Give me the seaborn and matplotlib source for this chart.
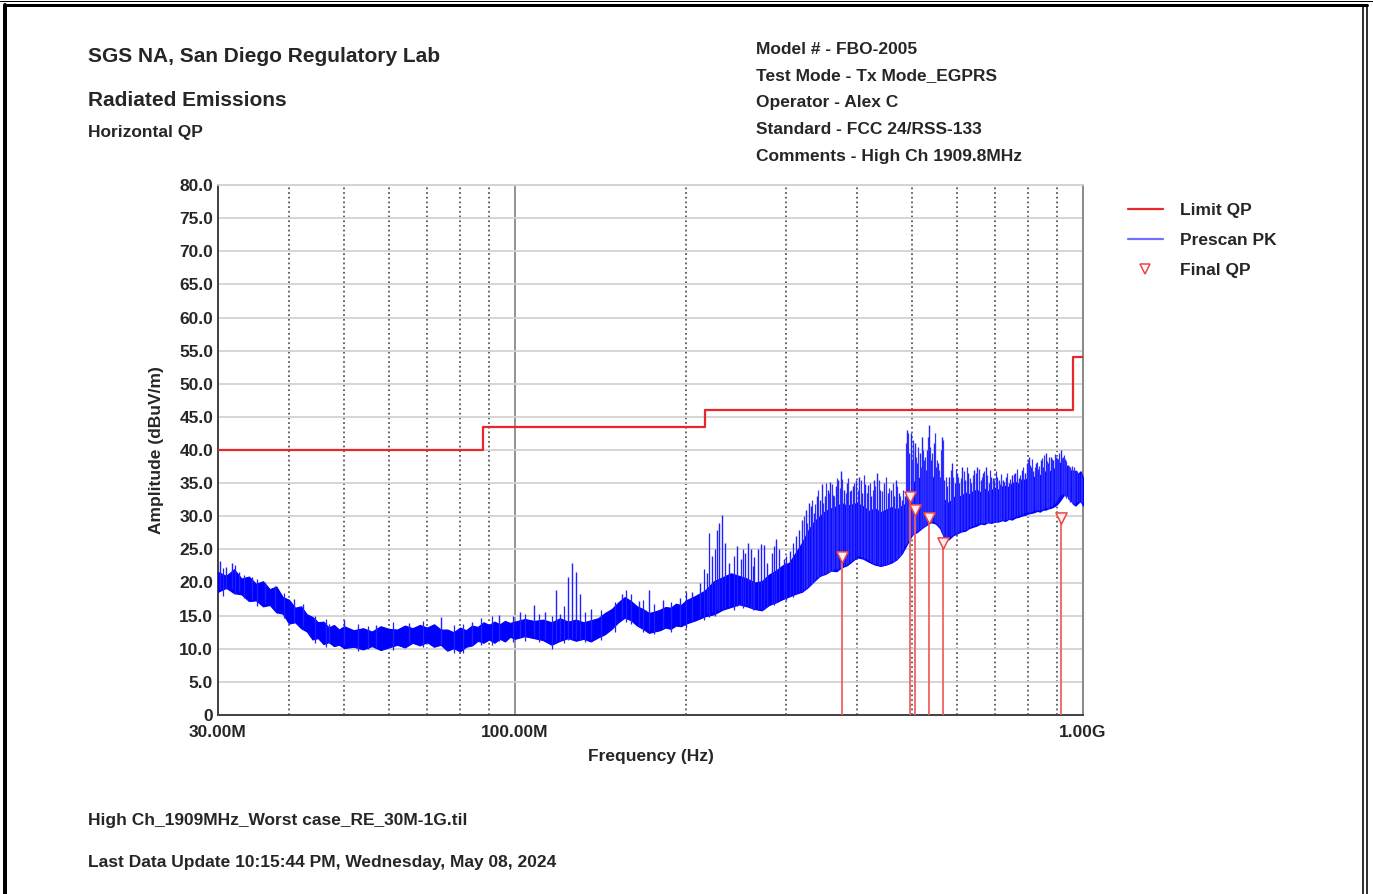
import matplotlib
matplotlib.use("Agg")
import matplotlib.pyplot as plt
import seaborn as sns
from matplotlib.lines import Line2D
from matplotlib.ticker import FixedLocator, MultipleLocator, FuncFormatter, NullFormatter

# --- data (frequency in MHz, level in dBuV/m) ---
limit_freq = [30, 88, 216, 960, 1000]
limit_level = [40.0, 43.5, 46.0, 54.0, 54.0]

# prescan peak trace: noise floor band (lower / upper edge)
band_freq = [30, 31, 32, 33, 34, 35, 36, 37, 38, 39, 40, 41, 42, 43, 44, 45, 46, 47, 48, 49, 50,
             52, 54, 56, 58, 60, 62, 64, 66, 68, 70, 72, 74, 76, 78, 80, 82, 84, 86, 88, 90,
             92, 94, 96, 98, 100,
             104, 108, 112, 116, 120, 124, 128, 132, 136, 140, 144, 148, 152, 156, 160, 164,
             168, 172, 176, 180, 184, 188, 192, 196, 200,
             208, 216, 224, 232, 240, 248, 256, 264, 272, 280, 288, 296, 304, 312, 320, 328,
             336, 344, 352, 360, 368, 376, 384, 392, 400,
             410, 420, 430, 440, 450, 460, 470, 480, 490, 500, 510, 520, 530, 540, 550, 560,
             570, 580, 590, 600, 610, 620, 630, 640, 650, 660, 670, 680, 690, 700, 710, 720,
             730, 740, 750, 760, 770, 780, 790, 800, 810, 820, 830, 840, 850, 860, 870, 880,
             890, 900, 910, 920, 930, 940, 950, 960, 970, 980, 990, 1000]
band_low = [18.6, 19.2, 18.4, 18.2, 17.2, 17.3, 16.4, 16.6, 15.5, 15.3, 13.8, 14.0, 13.1, 12.6,
            11.4, 11.6, 10.7, 11.0, 10.4, 10.6, 10.1,
            10.3, 9.9, 10.4, 9.8, 10.2, 10.6, 10.2, 10.9, 10.5, 11.0, 10.3, 10.6, 9.7, 10.1,
            9.6, 10.3, 10.5, 11.2, 10.9, 11.4, 10.9, 11.5, 11.1, 11.8, 11.5,
            11.9, 11.6, 11.3, 10.6, 11.2, 11.6, 11.2, 11.5, 11.1, 11.7, 12.2, 13.0, 14.0,
            14.7, 14.3, 13.5, 13.0, 12.4, 12.6, 12.8, 13.2, 13.0, 13.5, 13.4, 13.8,
            14.3, 14.9, 15.2, 15.9, 16.3, 16.7, 16.4, 16.0, 15.8, 16.6, 17.0, 17.5, 17.9,
            18.3, 18.6, 19.3, 20.2, 21.0, 21.3, 21.8, 21.7, 22.3, 22.6, 23.2, 23.8,
            23.6, 23.1, 22.7, 22.5, 22.7, 23.0, 23.5, 24.4, 25.8, 27.2, 27.6, 28.2, 28.7,
            29.1, 28.9, 28.2, 26.7, 26.5, 27.1, 27.4, 27.7, 27.8, 28.2, 28.4, 28.6, 28.9,
            28.8, 29.1, 29.0, 29.2, 29.2, 29.4, 29.3, 29.6, 29.5, 29.8, 29.9, 30.1, 30.2,
            30.4, 30.5, 30.6, 30.8, 30.7, 31.0, 31.0, 31.2, 31.3, 31.5, 31.8, 32.3, 32.9,
            33.4, 33.0, 32.5, 31.9, 31.6, 32.0, 32.3, 31.6]
band_high = [21.6, 21.0, 22.0, 20.6, 20.9, 19.8, 20.2, 19.0, 19.4, 17.8, 17.4, 16.2, 16.4, 15.2,
             14.8, 14.0, 14.1, 13.2, 13.6, 12.9, 13.4,
             12.8, 13.1, 12.6, 13.4, 13.0, 12.9, 13.5, 13.1, 13.6, 13.2, 13.7, 12.9, 12.9,
             12.5, 13.2, 12.8, 13.5, 13.3, 14.0, 13.6, 14.1, 13.7, 14.2, 13.9, 14.1,
             14.5, 14.2, 14.4, 14.0, 14.6, 14.1, 14.4, 14.0, 14.3, 14.6, 15.4, 16.0, 17.0,
             17.8, 17.2, 16.4, 16.0, 15.4, 15.6, 15.9, 16.3, 16.2, 16.8, 16.6, 17.3,
             18.0, 18.8, 20.2, 20.8, 21.4, 21.0, 20.6, 20.0, 20.2, 21.2, 21.8, 22.6, 23.0,
             24.5, 26.0, 27.8, 29.2, 30.0, 30.8, 31.2, 31.5, 32.0, 31.6, 31.8, 32.0,
             31.5, 30.8, 31.2, 30.6, 31.0, 31.4, 31.0, 31.6, 32.0, 34.5, 36.0, 35.5, 35.8,
             36.5, 34.8, 33.5, 32.5, 32.0, 32.8, 33.2, 33.0, 33.6, 33.3, 33.8, 34.0, 33.6,
             34.2, 33.8, 34.0, 34.3, 34.0, 34.5, 34.6, 34.4, 35.0, 35.2, 34.9, 35.6, 35.5,
             35.8, 36.0, 35.9, 36.4, 36.2, 36.6, 36.8, 36.6, 37.0, 37.2, 37.6, 38.0, 38.4,
             38.0, 37.4, 37.0, 36.6, 36.9, 36.4, 36.8, 35.8]

# main peaks sticking out of the noise floor
spike_freq = [30.3, 31.0, 31.8, 32.6, 34.5, 36.3, 37.8, 40.8, 42.3, 47, 50, 57, 65, 74,
              84, 93.7, 102, 108, 113, 118, 120, 124, 126, 128, 130, 136, 154, 165,
              172, 182, 195, 205, 212, 218, 222, 227, 229, 231, 234, 238, 246, 250,
              254, 257, 260, 264, 268, 271, 274, 278, 283, 288, 292, 297, 305, 312,
              316, 320, 325, 329, 332, 336, 340, 344, 347, 351, 355, 359, 363, 367,
              371, 375, 379, 384, 389, 393, 398, 403, 408, 413, 418, 423, 429, 434,
              440, 447, 453, 459, 464, 468, 474, 480, 486, 490, 494, 497, 501, 506,
              511, 516, 521, 525, 529, 532, 536, 541, 546, 551, 556, 561, 565, 570,
              576, 581, 587, 594, 600, 606, 613, 620, 628, 636, 644, 652, 660, 667,
              674, 682, 690, 698, 706, 714, 722, 731, 740, 750, 760, 770, 780, 790,
              797, 803, 810, 818, 826, 834, 842, 851, 860, 869, 878, 887, 896, 905,
              913, 921, 930, 940, 950, 960, 970, 985, 995]
spike_base = [19.0, 19.0, 19.0, 18.5, 17.5, 16.8, 16.0, 14.0, 13.5, 10.8, 10.5, 10.3,
              10.8, 10.6, 10.5, 11.2, 11.8, 11.8, 11.5, 11.0, 11.3, 11.3, 11.5, 11.4,
              11.4, 11.5, 14.5, 13.5, 12.8, 13.0, 13.5, 14.2, 14.8, 15.2, 15.5, 15.8,
              15.8, 16.0, 16.2, 16.5, 16.5, 16.6, 16.5, 16.4, 16.2, 16.1, 16.0, 16.0,
              16.0, 16.5, 16.8, 17.0, 17.3, 17.5, 18.0, 18.3, 18.5, 18.6, 19.0, 19.5,
              19.8, 20.2, 20.8, 21.0, 21.2, 21.4, 21.6, 21.8, 21.9, 22.0, 22.1, 22.3,
              22.5, 22.8, 23.1, 23.4, 23.8, 24.0, 23.9, 23.6, 23.4, 23.1, 22.9, 22.8,
              22.6, 22.7, 22.8, 23.1, 23.3, 23.5, 23.8, 24.5, 25.5, 26.0, 26.5, 27.0,
              27.3, 27.6, 27.8, 28.0, 28.2, 28.5, 28.7, 28.8, 29.0, 29.1, 29.2, 29.0,
              28.6, 28.4, 27.5, 26.8, 26.6, 26.8, 27.2, 27.3, 27.5, 27.7, 27.9, 28.0,
              28.2, 28.5, 28.7, 28.9, 29.0, 29.0, 29.0, 29.0, 29.1, 29.1, 29.2, 29.3,
              29.4, 29.5, 29.6, 29.8, 30.0, 30.2, 30.3, 30.5, 30.6, 30.6, 30.7, 30.8,
              30.9, 31.0, 31.0, 31.1, 31.2, 31.3, 31.5, 31.8, 32.2, 32.8, 33.2, 33.3,
              33.0, 32.6, 32.2, 31.8, 32.0, 32.2, 31.8]
spike_top = [23.2, 22.4, 22.9, 21.6, 20.8, 20.0, 19.4, 17.5, 16.8, 13.8, 14.4, 13.6,
             13.9, 14.8, 14.0, 15.1, 15.5, 16.6, 15.6, 18.8, 15.3, 20.9, 23.0, 21.6,
             18.3, 16.0, 18.3, 17.2, 18.8, 17.4, 17.6, 18.6, 20.0, 21.5, 24.0, 28.0,
             29.0, 30.2, 26.0, 23.0, 25.5, 23.5, 24.5, 26.0, 25.0, 23.8, 25.0, 25.8,
             25.7, 23.0, 24.5, 26.6, 25.0, 23.5, 24.8, 27.0, 28.0, 29.5, 31.0, 32.0,
             31.5, 30.5, 33.0, 32.5, 34.8, 33.0, 34.0, 35.2, 33.2, 34.5, 35.5, 36.8,
             34.0, 35.0, 33.8, 34.6, 35.5, 36.0, 33.5, 34.8, 34.7, 33.0, 35.5, 36.5,
             34.0, 35.0, 33.5, 34.0, 33.0, 35.5, 33.5, 32.5, 33.0, 43.0, 39.5, 42.5,
             40.0, 41.0, 38.0, 39.5, 42.0, 38.5, 37.0, 40.0, 43.7, 38.5, 41.0, 37.5,
             38.0, 36.0, 42.0, 35.5, 34.5, 36.0, 38.0, 35.0, 36.5, 35.0, 37.5, 35.5,
             36.5, 35.0, 37.0, 37.5, 35.5, 36.5, 37.5, 35.0, 36.0, 35.5, 36.0, 34.8,
             35.5, 36.0, 35.0, 36.2, 36.5, 35.8, 37.0, 36.5, 38.0, 39.0, 37.5, 36.8,
             38.0, 37.2, 38.5, 37.5, 39.5, 38.0, 39.0, 38.5, 39.0, 38.6, 40.0, 39.0,
             38.6, 37.8, 37.5, 37.0, 36.8, 36.5, 36.0]

# finer noise peaks below 320 MHz
fine_freq = [30.6, 32.2, 33.4, 35.2, 39.2, 44.5, 46.5, 53, 55, 61,
             69, 78, 81, 87, 91, 99, 104, 110, 116, 122,
             133, 142, 150, 157, 160, 168, 176, 188, 200, 215,
             220, 225, 243, 252, 262, 286, 300, 309]
fine_base = [18.0, 18.2, 17.6, 16.5, 14.6, 10.9, 10.2, 9.6, 9.9, 9.8,
             10.2, 9.4, 9.3, 10.5, 10.6, 11.0, 11.2, 11.0, 10.0, 10.8,
             11.0, 11.3, 12.6, 14.0, 13.8, 12.6, 12.2, 12.6, 13.2, 14.4,
             14.8, 15.0, 15.9, 16.2, 15.8, 16.6, 17.3, 17.8]
fine_top = [22.2, 22.6, 21.2, 20.6, 18.4, 15.0, 14.5, 13.8, 13.4, 14.0,
            14.2, 13.6, 13.8, 14.6, 14.9, 15.0, 15.2, 15.3, 15.0, 16.5,
            15.6, 15.8, 17.0, 18.8, 18.2, 17.4, 16.8, 17.0, 18.5, 22.0,
            27.5, 25.0, 24.0, 25.0, 22.5, 25.5, 24.0, 26.0]

# dense comb of peaks above 320 MHz
comb_freq = [323, 327, 334, 338, 342, 349, 353, 357, 361, 365,
             369, 373, 377, 382, 386, 391, 396, 401, 406, 411,
             416, 421, 426, 431, 437, 443, 450, 456, 462, 471,
             477, 483, 488, 492, 499, 503, 508, 513, 518, 523,
             527, 534, 538, 543, 548, 553, 558, 563, 567, 573,
             585, 590, 597, 603, 610, 617, 624, 632, 640, 648,
             656, 663, 670, 678, 686, 694, 702, 710, 718, 726,
             735, 745, 755, 765, 775, 785, 800, 806, 814, 822,
             830, 838, 846, 855, 864, 873, 882, 891, 900, 909,
             917, 925, 935, 945, 955, 965, 975, 990]
comb_base = [19.0, 19.3, 20.0, 20.5, 20.8, 21.2, 21.4, 21.6, 21.8, 22.0,
             22.0, 22.2, 22.4, 22.6, 22.9, 23.2, 23.6, 24.0, 23.9, 23.7,
             23.5, 23.2, 23.0, 22.8, 22.7, 22.6, 22.7, 22.9, 23.2, 23.6,
             24.0, 25.0, 25.8, 26.2, 27.2, 27.4, 27.7, 27.9, 28.1, 28.4,
             28.6, 28.9, 29.0, 29.1, 29.1, 28.8, 28.5, 28.0, 27.2, 26.7,
             27.0, 27.2, 27.4, 27.6, 27.8, 28.0, 28.1, 28.4, 28.6, 28.8,
             29.0, 29.0, 29.0, 29.0, 29.1, 29.1, 29.2, 29.3, 29.4, 29.5,
             29.6, 29.7, 29.9, 30.1, 30.2, 30.4, 30.6, 30.7, 30.8, 30.9,
             31.0, 31.0, 31.1, 31.2, 31.3, 31.4, 31.6, 32.0, 32.4, 33.0,
             33.3, 33.2, 32.8, 32.4, 32.0, 31.9, 32.1, 32.0]
comb_top = [30.0, 29.0, 32.5, 31.8, 34.0, 32.0, 35.0, 33.5, 34.8, 33.0,
            35.8, 34.2, 35.6, 33.5, 35.8, 34.0, 35.0, 34.0, 35.5, 36.2,
            33.5, 35.0, 34.0, 34.5, 35.5, 33.8, 36.0, 34.2, 35.0, 34.5,
            33.0, 34.0, 41.0, 42.5, 38.5, 41.5, 39.0, 40.5, 37.5, 40.0,
            39.0, 42.0, 40.5, 39.5, 42.5, 38.5, 37.0, 40.0, 41.5, 36.0,
            37.0, 36.0, 37.2, 36.0, 35.8, 36.8, 37.5, 35.8, 36.2, 36.5,
            37.2, 36.0, 36.8, 36.2, 37.0, 35.8, 36.8, 35.5, 36.4, 35.2,
            36.6, 35.6, 36.4, 37.2, 36.2, 37.4, 38.5, 37.8, 38.6, 37.4,
            38.2, 37.6, 38.8, 39.2, 38.4, 39.0, 38.6, 39.4, 38.8, 39.6,
            38.8, 39.2, 38.4, 37.6, 37.6, 37.4, 36.8, 36.4]

# final quasi-peak measurements
qp_freq = [376, 496, 507, 536, 566, 915]
qp_level = [23.9, 32.9, 30.9, 29.8, 26.0, 29.8]

header_left = ["SGS NA, San Diego Regulatory Lab", "Radiated Emissions", "Horizontal QP"]
header_right = ["Model # - FBO-2005", "Test Mode - Tx Mode_EGPRS", "Operator - Alex C",
                "Standard - FCC 24/RSS-133", "Comments - High Ch 1909.8MHz"]
footer = ["High Ch_1909MHz_Worst case_RE_30M-1G.til",
          "Last Data Update 10:15:44 PM, Wednesday, May 08, 2024"]

RED = "#e8262b"
BLUE = "#0000ff"

sns.set_style("white")
plt.rcParams["font.family"] = ["Liberation Sans", "DejaVu Sans"]
plt.rcParams["font.weight"] = "bold"

W, H = 1373, 894
fig = plt.figure(figsize=(W / 100, H / 100), dpi=100)
fig.patch.set_facecolor("white")


def fx(px):
    return px / W


def fy(py):
    return 1 - py / H


ax = fig.add_axes([fx(218), fy(715), fx(1083) - fx(218), fy(185) - fy(715)])

# noise floor + peaks
ax.fill_between(band_freq, band_low, band_high, color=BLUE, lw=0.8, zorder=3)
ax.vlines(spike_freq, spike_base, spike_top, color="#1f1fff", lw=1.0, zorder=3)
ax.vlines(fine_freq, fine_base, fine_top, color="#1f1fff", lw=0.9, zorder=3)
ax.vlines(comb_freq, comb_base, comb_top, color="#3030ff", lw=0.9, zorder=3)

# limit line
sns.lineplot(x=limit_freq, y=limit_level, drawstyle="steps-post", color=RED, lw=1.6,
             estimator=None, ax=ax, zorder=4)

# final QP markers with drop lines
ax.vlines(qp_freq, 0, qp_level, color="#f06262", lw=1.3, zorder=5)
sns.scatterplot(x=qp_freq, y=qp_level, marker="v", s=65, facecolor="#fff0f0",
                edgecolor="#ee4444", linewidth=1.1, ax=ax, zorder=6)

ax.set_xscale("log")
ax.set_xlim(30, 1000)
ax.set_ylim(0, 80)

ax.xaxis.set_major_locator(FixedLocator([30, 100, 1000]))
ax.xaxis.set_major_formatter(FuncFormatter(
    lambda v, p: {30: "30.00M", 100: "100.00M", 1000: "1.00G"}.get(int(round(v)), "")))
ax.xaxis.set_minor_locator(FixedLocator([40, 50, 60, 70, 80, 90,
                                         200, 300, 400, 500, 600, 700, 800, 900]))
ax.xaxis.set_minor_formatter(NullFormatter())
ax.yaxis.set_major_locator(MultipleLocator(5))
ax.yaxis.set_minor_locator(MultipleLocator(0.5))
ax.yaxis.set_major_formatter(FuncFormatter(lambda v, p: "0" if v == 0 else f"{v:.1f}"))

ax.grid(which="major", axis="y", color="#d2d2d2", lw=1.3, zorder=0)
ax.grid(which="major", axis="x", color="#8a8a8a", lw=1.3, zorder=0)
ax.grid(which="minor", axis="x", color="#5a5a5a", lw=1.3, ls=(0, (1.0, 1.6)), zorder=0)
ax.set_axisbelow(True)

ax.tick_params(axis="both", which="major", direction="inout", length=5, width=1,
               color="#333333", labelsize=12.5, pad=1)
ax.tick_params(axis="y", which="major", labelsize=12.5)
ax.tick_params(axis="y", which="minor", direction="inout", length=3, width=0.8,
               color="#555555")
ax.tick_params(axis="x", which="minor", direction="in", length=3, width=1,
               color="#555555")
ax.tick_params(axis="x", which="major", pad=5)
for lab in ax.get_xticklabels() + ax.get_yticklabels():
    lab.set_fontweight("bold")

for side in ["left", "bottom"]:
    ax.spines[side].set_color("#404040")
    ax.spines[side].set_linewidth(1.4)
ax.spines["right"].set_color("#8a8a8a")
ax.spines["right"].set_linewidth(1.4)
ax.spines["top"].set_color("#d2d2d2")
ax.spines["top"].set_linewidth(1.3)

ax.set_xlabel("Frequency (Hz)", fontsize=12.5, fontweight="bold")
ax.set_ylabel("Amplitude (dBuV/m)", fontsize=12.5, fontweight="bold")
ax.xaxis.set_label_coords(0.5, -(756 - 715) / 530)
ax.xaxis.label.set_va("center")
ax.yaxis.set_label_coords(-(218 - 157) / 865, 0.5)
ax.yaxis.label.set_va("center")

# legend outside the plot
handles = [
    Line2D([0], [0], color=RED, lw=1.6),
    Line2D([0], [0], color="#7070ff", lw=1.6),
    Line2D([0], [0], ls="none", marker="v", markersize=7, markerfacecolor="white",
           markeredgecolor="#ee4444", markeredgewidth=1.1),
]
fig.legend(handles, ["Limit QP", "Prescan PK", "Final QP"], loc="upper left",
           bbox_to_anchor=(fx(1128), fy(203)), frameon=False, borderpad=0,
           borderaxespad=0, handlelength=2.0, handletextpad=1.0, labelspacing=0.86,
           prop={"size": 12.5, "weight": "bold"})

# header / footer text
fig.text(fx(88), fy(56), header_left[0], fontsize=15, fontweight="bold", va="center")
fig.text(fx(88), fy(101), header_left[1], fontsize=15, fontweight="bold", va="center")
fig.text(fx(88), fy(133), header_left[2], fontsize=12.5, fontweight="bold", va="center")
for i, line in enumerate(header_right):
    fig.text(fx(756), fy(49 + i * 26.8), line, fontsize=12.5, fontweight="bold",
             va="center")
fig.text(fx(88), fy(820), footer[0], fontsize=12.5, fontweight="bold", va="center")
fig.text(fx(88), fy(863), footer[1], fontsize=12.5, fontweight="bold", va="center")

# double page frame (top, left, right)
for xs, ys, w in [([fx(5), fx(5)], [0, fy(4.5)], 4.0),
                  ([fx(5), fx(1367)], [fy(4.5), fy(4.5)], 3.0),
                  ([0, 1], [fy(0.5), fy(0.5)], 1.0),
                  ([fx(1363), fx(1363)], [0, fy(4.5)], 1.6),
                  ([fx(1367), fx(1367)], [0, fy(4.5)], 1.6)]:
    fig.add_artist(Line2D(xs, ys, color="black", lw=w * 0.72, transform=fig.transFigure))

fig.savefig("out.png", dpi=100, facecolor="white")
